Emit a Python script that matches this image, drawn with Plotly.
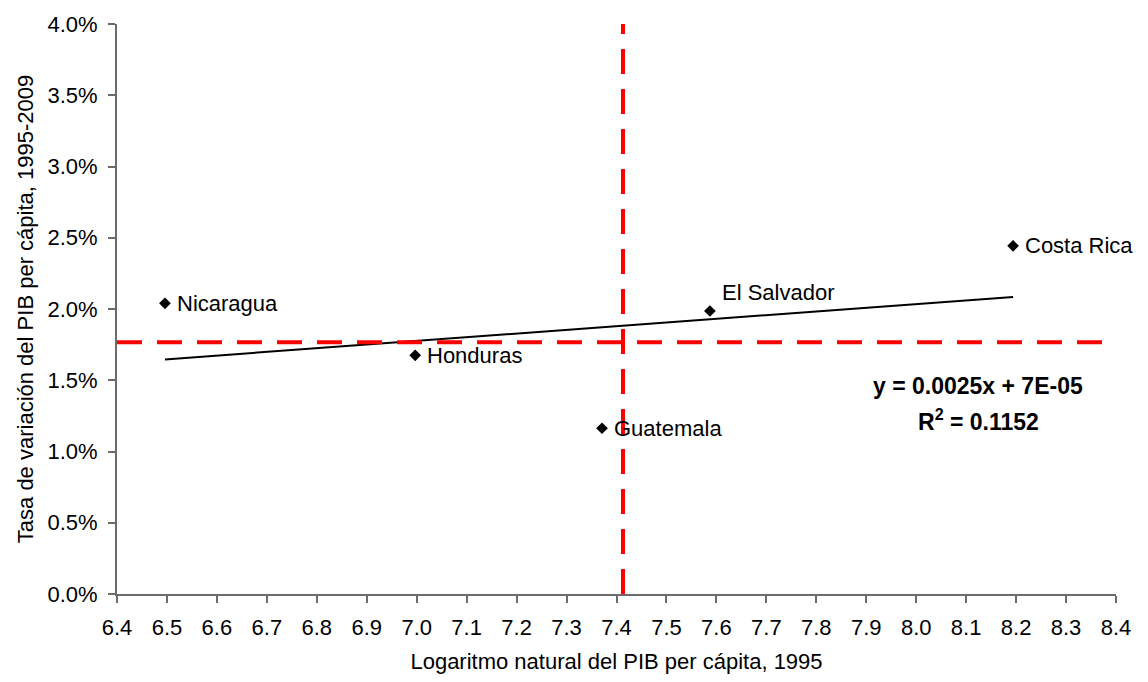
import numpy as np
import plotly.graph_objects as go

# Central American countries: log of GDP per capita (1995) vs. growth rate 1995-2009
countries = ["Nicaragua", "Honduras", "Guatemala", "El Salvador", "Costa Rica"]
log_gdp_1995 = [6.496, 6.997, 7.371, 7.587, 8.194]
growth_rate = [0.0204, 0.01675, 0.01163, 0.01986, 0.02443]
label_positions = ["right", "right", "right", "topright", "right"]

# Reference (average) lines
ref_x = 7.413
ref_y = 0.01767

# Axis ticks
x_ticks = [round(6.4 + 0.1 * i, 1) for i in range(21)]
y_ticks = [0.005 * i for i in range(9)]

# Linear trend fitted to the country points
slope, intercept = np.polyfit(log_gdp_1995, growth_rate, 1)
trend_x = [min(log_gdp_1995), max(log_gdp_1995)]
trend_y = [slope * v + intercept for v in trend_x]

FONT = "Liberation Sans, Arial, sans-serif"
AXIS_COLOR = "#6b6b6b"
FS = 22

fig = go.Figure()

fig.add_trace(go.Scatter(
    x=trend_x, y=trend_y, mode="lines",
    line=dict(color="black", width=2),
    hoverinfo="skip", showlegend=False,
))

fig.add_trace(go.Scatter(
    x=log_gdp_1995, y=growth_rate, mode="markers",
    marker=dict(symbol="diamond", size=9, color="black"),
    text=countries, showlegend=False,
))

# Dashed reference lines
fig.add_shape(type="line", xref="x", yref="paper", x0=ref_x, x1=ref_x, y0=0, y1=1,
              line=dict(color="#ff0000", width=4, dash="25px,15px"))
fig.add_shape(type="line", xref="paper", yref="y", x0=0, x1=1, y0=ref_y, y1=ref_y,
              line=dict(color="#ff0000", width=4, dash="25px,15px"))

# Country labels
for name, xv, yv, pos in zip(countries, log_gdp_1995, growth_rate, label_positions):
    fig.add_annotation(
        x=xv, y=yv, text=name, showarrow=False,
        xanchor="left", yanchor="middle",
        xshift=10, yshift=19 if pos == "topright" else 0,
        font=dict(family=FONT, size=FS, color="black"),
    )

# Trend equation
fig.add_annotation(
    x=8.124, y=0.0146, text="<b>y = 0.0025x + 7E-05</b>", showarrow=False,
    xanchor="center", yanchor="middle",
    font=dict(family=FONT, size=23, color="black"),
)
fig.add_annotation(
    x=8.124, y=0.01218, text="<b>R<sup>2</sup> = 0.1152</b>", showarrow=False,
    xanchor="center", yanchor="middle",
    font=dict(family=FONT, size=23, color="black"),
)

fig.update_layout(
    width=1148, height=682,
    margin=dict(l=117, r=32, t=19, b=85),
    paper_bgcolor="white", plot_bgcolor="white",
    font=dict(family=FONT, size=FS, color="black"),
    xaxis=dict(
        range=[6.4, 8.4], tickvals=x_ticks, tickformat=".1f",
        showgrid=False, zeroline=False,
        showline=True, linecolor=AXIS_COLOR, linewidth=2,
        ticks="outside", ticklen=7, tickwidth=2, tickcolor=AXIS_COLOR,
        ticklabelstandoff=6,
        title=dict(text="Logaritmo natural del PIB per cápita, 1995",
                   font=dict(family=FONT, size=FS), standoff=14),
    ),
    yaxis=dict(
        range=[0, 0.04], tickvals=y_ticks, tickformat=".1%",
        showgrid=False, zeroline=False,
        showline=True, linecolor=AXIS_COLOR, linewidth=2,
        ticks="outside", ticklen=7, tickwidth=2, tickcolor=AXIS_COLOR,
        ticklabelstandoff=6,
        title=dict(text="Tasa de variación del PIB per cápita, 1995-2009",
                   font=dict(family=FONT, size=FS), standoff=8),
    ),
)

fig.write_html("out.html")
